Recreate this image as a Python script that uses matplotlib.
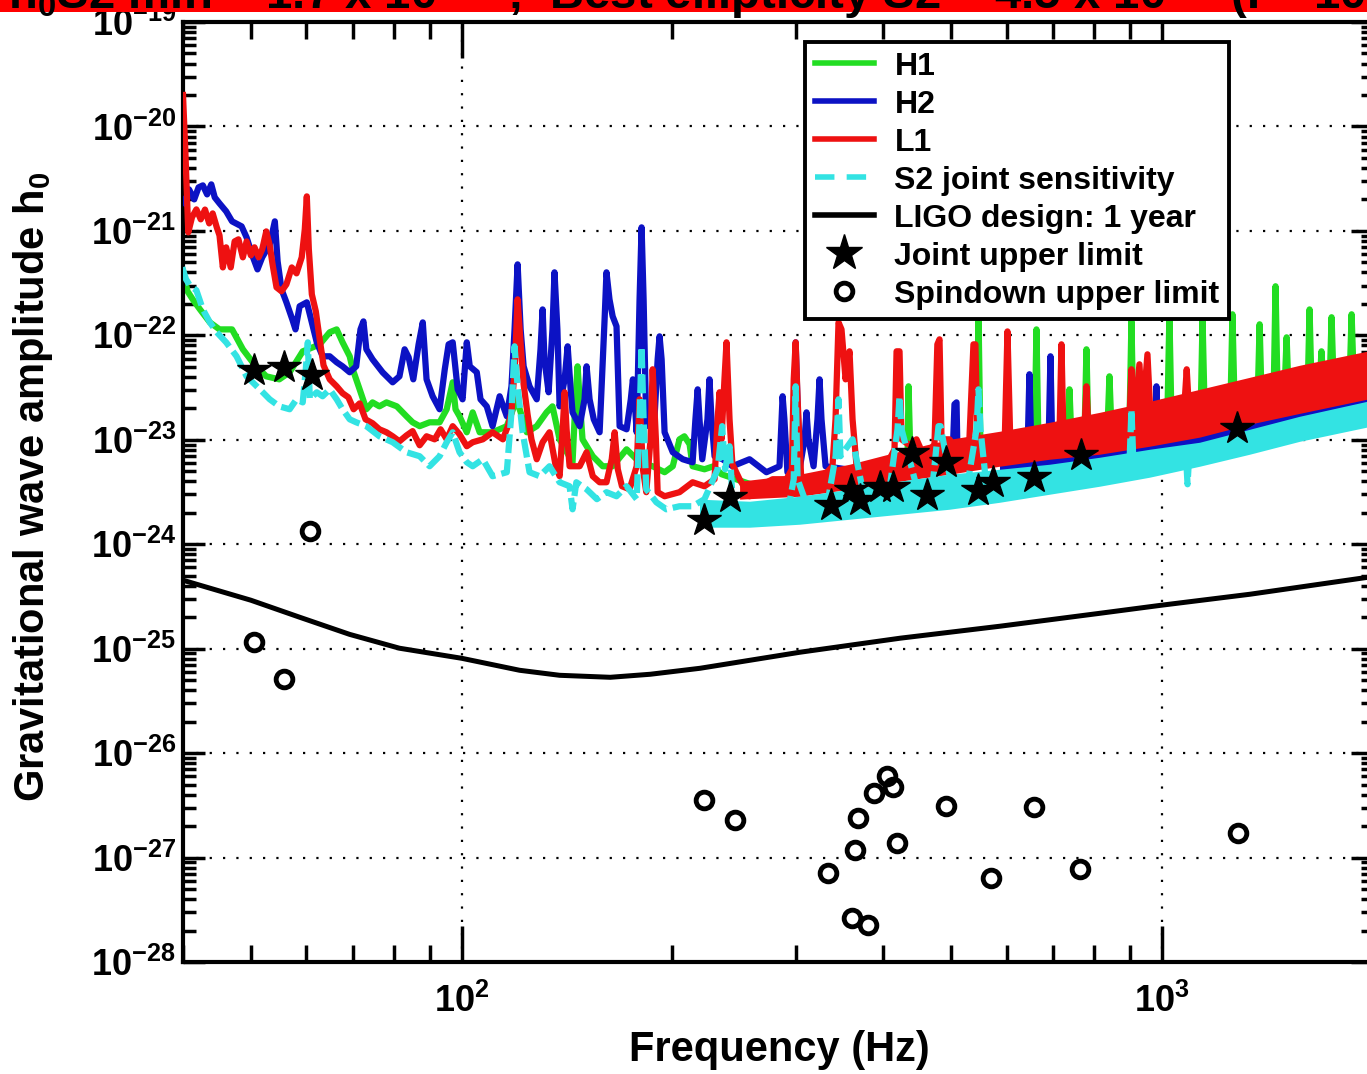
#!/usr/bin/env python3
"""
S2 pulsar search: upper limits on h0 vs frequency, with detector sensitivities
"""

import numpy as np
import matplotlib
matplotlib.use('Agg')
import matplotlib.pyplot as plt
from matplotlib.lines import Line2D
from matplotlib.patches import Rectangle
from matplotlib.ticker import LogLocator, NullFormatter

# detector noise curves, amplitudes in units of 1e-24
H_UNIT = 1e-24

h1_freq = [40.0, 40.6, 41.3, 42.3, 43.7, 45.1, 47.0, 48.7, 50.3, 52.6,
           54.9, 56.8, 59.3, 61.3, 62.7, 64.8, 66.3, 67.6, 69.2, 69.9,
           71.5, 73.1, 74.6, 76.3, 78.1, 80.8, 83.4, 85.1, 87.1, 90.0,
           93.0, 95.2, 97.1, 98.0, 99.3, 101.7, 103.7, 106.1, 110.7, 116.0,
           119.8, 123.9, 128.0, 132.2, 134.8, 138.0, 144.0, 145.4, 146.4, 147.4,
           148.8, 153.9, 159.0, 164.3, 172.0, 179.5, 187.4, 194.9, 200.2, 204.7,
           208.0, 211.6, 213.7, 222.2, 229.0, 235.0, 266.3, 303.8, 370.0, 433.2,
           434.7, 437.5, 543.6, 547.1, 550.7, 657.6, 662.0, 666.4, 733.0, 737.9,
           742.8, 775.2, 780.3, 785.4, 836.0, 841.6, 847.2, 898.8, 904.7, 910.7,
           1018, 1025, 1032, 1136, 1143, 1151, 1253, 1261, 1270, 1370,
           1379, 1388, 1444, 1453, 1463, 1496, 1507, 1517, 1615, 1625,
           1636, 1679, 1690, 1701, 1736, 1747, 1759, 1854, 1866, 1879,
           1960]
h1_amp = [410, 264, 221, 177, 133, 114, 114, 73.5, 55.2, 40.5,
          37.9, 44.3, 70.3, 76.8, 82, 107, 114, 85.7, 63.0, 47.3,
          30.4, 19.6, 22.8, 20.9, 22.8, 20.9, 16.8, 14.7, 13.5, 14.7,
          14.7, 19.6, 35.5, 19.6, 16.8, 11.8, 18.3, 11.8, 11.8, 13.5,
          24.4, 11.8, 13.5, 18.3, 20.9, 10.1, 6.09, 24.4, 50.5, 24.4,
          10.1, 6.96, 5.58, 5.58, 8.11, 6.09, 5.58, 4.89, 5.58, 10.1,
          10.8, 9.06, 5.58, 5.22, 5.58, 4.68, 3.51, 4.19, 5.0, 6.23,
          32.5, 6.23, 8.11, 166, 8.11, 9.06, 114, 9.06, 10.1, 30.4,
          10.1, 10.8, 73.5, 10.8, 12.6, 40.5, 12.6, 14.1, 136, 14.1,
          15.7, 159, 15.7, 18.7, 142, 18.7, 21.9, 159, 21.9, 24.4,
          127.5, 24.4, 27.3, 295, 27.3, 27.3, 95.7, 27.3, 30.4, 177,
          30.4, 31.8, 70.3, 31.8, 34.0, 149, 34.0, 37.9, 159, 37.9,
          39.6]

h2_freq = [39.9, 40.4, 40.8, 41.5, 42.1, 42.7, 43.3, 43.9, 44.4, 45.1,
           46.1, 47.0, 48.5, 49.3, 50.3, 51.1, 51.9, 53.2, 54.1, 54.6,
           55.3, 56.2, 57.3, 57.9, 58.7, 60.1, 61.1, 62.1, 63.3, 64.8,
           66.3, 67.6, 69.2, 70.7, 71.7, 72.4, 73.1, 74.6, 77.1, 79.7,
           81.5, 82.9, 84.0, 85.3, 86.8, 88.0, 89.1, 90.9, 93.0, 94.6,
           95.8, 97.1, 98.7, 100.3, 101.7, 102.7, 105.1, 106.4, 108.6, 110.7,
           113.3, 116.0, 117.8, 119.0, 120.2, 121.4, 122.6, 125.0, 128.0, 129.6,
           130.5, 131.3, 133.1, 134.8, 135.7, 137.0, 138.0, 140.3, 141.7, 143.1,
           144.0, 147.4, 149.8, 150.8, 152.3, 154.4, 157.4, 160.0, 161.0, 162.6,
           164.3, 166.4, 168.1, 172.0, 174.4, 175.6, 176.6, 177.8, 179.5, 180.7,
           181.9, 183.5, 188.5, 190.5, 191.7, 193.0, 194.9, 200.2, 206.9, 213.7,
           215.7, 217.3, 218.6, 220.6, 224.4, 225.9, 227.4, 229.7, 235.8, 243.6,
           257.7, 272.4, 284.4, 286.4, 287.3, 289.0, 291.9, 297.1, 299.9, 303.8,
           308.8, 310.8, 312.8, 318.1, 322.2, 324.4, 326.5, 330.9, 370.0, 422.0,
           502.4, 505.6, 509.0, 510.6, 576.6, 642.7, 646.9, 651.2, 688.6, 693.2, 697.5,
           975.8, 982.2, 988.6, 1960]
h2_amp = [2003, 1794, 2497, 2003, 2609, 2728, 2236, 2788, 2093, 1834,
          1538, 1234, 1105, 867, 570, 428, 558, 743, 1234, 511,
          276, 207, 142, 114, 190, 207, 133, 85.7, 63.0, 63.0,
          55.2, 50.5, 44.3, 50.5, 114, 136, 73.5, 58.9, 44.3, 35.5,
          40.5, 73.5, 61.6, 37.9, 82, 133, 37.9, 26.1, 19.6, 47.3,
          82, 85.7, 30.4, 24.4, 85.7, 50.5, 44.3, 24.4, 20.9, 13.5,
          26.1, 16.8, 32.5, 114, 478, 114, 50.5, 32.5, 24.4, 73.5,
          177, 58.9, 28.5, 114, 401, 114, 20.9, 37.9, 78.5, 30.4,
          18.3, 13.5, 24.4, 50.5, 24.4, 15.7, 11.8, 142, 401, 221,
          152, 122, 13.5, 12.6, 24.4, 37.9, 24.4, 11.8, 221, 1081,
          221, 13.5, 15.7, 58.9, 97.8, 58.9, 11.8, 7.60, 6.51, 6.09,
          15.7, 30.4, 15.7, 6.51, 15.7, 37.9, 15.7, 6.96, 6.51, 5.58,
          6.51, 4.89, 5.58, 15.7, 26.1, 15.7, 4.89, 5.22, 85.7, 5.22,
          10.1, 18.3, 10.1, 5.58, 15.7, 37.9, 15.7, 5.58, 5.0, 6.23,
          6.80, 21.9, 22.8, 7.27, 6.80, 7.27, 42.4, 7.27, 7.76, 63.0, 7.76,
          9.06, 32.5, 9.06, 19.6]

l1_freq = [40.0, 40.3, 40.7, 41.2, 41.8, 42.4, 43.0, 43.6, 44.1, 44.7,
           45.1, 45.6, 46.1, 46.8, 47.4, 48.0, 48.7, 49.3, 50.0, 50.6,
           51.3, 51.9, 52.6, 53.2, 53.7, 54.4, 55.3, 56.2, 57.2, 58.1,
           59.1, 59.7, 60.1, 60.5, 61.1, 61.9, 62.7, 63.5, 64.8, 66.3,
           67.6, 68.9, 70.1, 71.5, 72.9, 74.6, 76.3, 78.1, 79.7, 81.5,
           83.4, 85.1, 87.1, 89.1, 91.5, 93.3, 95.2, 97.1, 99.3, 101.7,
           103.7, 107.2, 110.7, 114.5, 116.7, 117.8, 119.1, 120.2, 121.4, 122.6,
           124.2, 125.8, 128.0, 130.5, 133.5, 136.1, 138.0, 139.4, 140.3, 141.2,
           142.6, 147.4, 150.8, 153.9, 157.4, 161.0, 163.8, 165.4, 167.1, 169.4,
           173.7, 177.8, 179.5, 181.5, 183.5, 186.1, 187.4, 189.4, 190.5, 194.9,
           204.7, 213.7, 222.2, 229.7, 232.0, 233.5, 235.0, 237.3, 238.9, 241.3,
           243.6, 249.4, 257.7, 266.3, 278.0, 291.0, 296.2, 298.0, 299.9, 301.8,
           305.8, 317.0, 327.6, 338.5, 341.9, 345.3, 348.7, 353.4, 358.0, 361.6,
           366.4, 378.6, 395.1, 408.3, 415.1, 417.9, 422.0, 424.8, 436.1, 446.2,
           458.0, 473.4, 477.9, 481.3, 484.5, 497.3, 514.0, 531.0, 538.1, 541.6,
           545.3, 567.0, 586.0, 596.0, 601.8, 607.8, 668.6, 714.0, 718.7, 723.5,
           775.2, 780.3, 785.4, 898.8, 904.7, 913.7, 928.8, 938.0, 953.6, 963.0,
           1077, 1085, 1092, 1960]
l1_amp = [20000, 6030, 968, 1350, 1607, 1290, 1600, 1180, 1470, 1080,
          905, 447, 696, 447, 793, 830, 558, 793, 583, 696,
          558, 666, 989, 727, 478, 288, 264, 308, 447, 392,
          558, 1034, 2140, 666, 247, 170, 91.6, 51.6, 37.9, 32.5,
          27.9, 25.5, 19.6, 22.3, 15.7, 14.4, 12.6, 11.8, 10.8, 9.67,
          11.0, 12.1, 8.86, 10.8, 10.1, 12.6, 10.1, 13.5, 11.3, 8.67,
          9.47, 10.1, 11.8, 10.1, 14.1, 18.3, 50.5, 221, 82, 34.0,
          17.5, 10.1, 6.51, 9.47, 11.8, 5.83, 4.48, 12.6, 28.5, 12.6,
          5.58, 5.58, 7.60, 4.48, 3.92, 3.92, 6.51, 11.8, 5.22, 3.59,
          3.36, 5.58, 24.4, 5.22, 3.15, 10.1, 47.3, 10.1, 3.15, 2.88,
          3.15, 3.92, 3.59, 4.19, 15.7, 28.5, 10.1, 37.9, 85.7, 15.7,
          5.83, 4.19, 2.88, 3.59, 4.19, 4.19, 5.22, 37.9, 85.7, 24.4,
          3.59, 3.59, 4.38, 5.58, 15.7, 133, 114, 37.9, 70.3, 15.7,
          5.58, 5.22, 5.58, 6.51, 8.11, 70.3, 70.3, 10.1, 8.86, 10.1,
          6.80, 9.06, 82, 91.6, 10.1, 10.1, 7.27, 10.1, 82, 82,
          9.06, 7.27, 10.1, 8.11, 109, 8.11, 10.1, 10.6, 82, 10.6,
          12.6, 32.5, 12.6, 15.7, 47.3, 15.7, 52.8, 16.4, 65.8, 17.2,
          21.9, 47.3, 21.9, 37.9]

s2_freq = [39.9, 40.4, 40.9, 41.8, 42.7, 43.7, 44.7, 46.1, 47.7, 49.3,
           50.3, 51.5, 53.2, 54.9, 56.8, 58.1, 59.3, 59.9, 60.3, 60.7,
           62.1, 63.3, 64.8, 66.3, 67.6, 69.2, 70.7, 73.1, 76.3, 79.7,
           83.4, 87.1, 90.0, 93.0, 95.2, 97.1, 99.3, 101.7, 103.7, 107.2,
           110.7, 116.0, 117.8, 119.0, 120.2, 122.2, 125.0, 129.2, 133.5, 138.0,
           142.6, 144.0, 145.8, 150.8, 156.0, 161.0, 166.4, 172.0, 177.8, 179.5,
           180.7, 181.9, 183.5, 189.7, 196.0, 204.7, 213.7, 222.2, 232.0, 235.5,
           237.8, 241.3, 243.7, 251.0, 266.3, 281.5, 290.9, 298.0, 299.9, 301.8,
           313.9, 331.8, 342.0, 345.3, 347.5, 361.6, 378.6, 404.3, 419.2, 422.0,
           424.8, 446.2, 470.3, 479.7, 482.9, 502.4, 525.5, 543.6, 547.1, 550.7,
           561.6, 586.2, 690.9, 814.4, 898.8, 904.7, 910.7, 1081, 1088, 1095,
           1334, 1960]
s2_amp = [448, 344, 301, 270, 177, 133, 107, 85.7, 63.0, 40.5,
          35.5, 30.4, 24.4, 20.9, 19.6, 24.4, 22.8, 47.3, 85.7, 24.4,
          28.5, 26.1, 30.4, 24.4, 19.6, 15.7, 14.7, 13.5, 10.8, 9.47,
          7.60, 6.96, 5.58, 6.96, 9.47, 11.8, 7.60, 6.09, 5.58, 6.51,
          4.48, 4.89, 18.3, 78.5, 32.5, 11.8, 4.89, 4.48, 5.58, 3.92,
          3.59, 2.16, 3.92, 3.36, 2.70, 3.15, 2.88, 3.59, 2.70, 15.7,
          78.5, 15.7, 3.36, 2.52, 2.16, 2.31, 2.31, 2.70, 5.22, 13.5,
          5.22, 8.67, 2.70, 2.02, 1.735, 2.02, 1.735, 4.19, 32.5, 4.19,
          2.02, 2.16, 6.96, 24.4, 6.96, 10.1, 2.16, 2.02, 12.6, 26.1,
          12.6, 3.59, 3.59, 13.5, 13.5, 3.15, 3.15, 12.6, 30.4, 12.6,
          3.59, 3.59, 4.19, 5.22, 5.83, 19.6, 5.83, 8.11, 3.75, 8.11,
          10.1, 17.5]

# dense high-frequency floor, spread of each noise band (units of 1e-24)
l1_band_freq = [249.4, 303.8, 358.0, 422.0, 497.3, 586.2, 690.9, 814.4, 959.9, 1132, 1334, 1573, 1960]
l1_band_lo = [2.70, 2.88, 3.36, 4.01, 4.68, 5.58, 6.51, 7.27, 8.67, 10.6, 14.1, 17.9, 24.4]
l1_band_hi = [4.01, 4.68, 5.83, 7.76, 10.1, 12.06, 14.7, 18.3, 23.3, 30.4, 39.6, 51.7, 70.3]

h2_band_freq = [586.2, 814.4, 1132, 1573, 1960]
h2_band_lo = [4.78, 6.23, 8.67, 14.1, 19.6]
h2_band_hi = [5.83, 7.76, 11.05, 18.7, 25.5]

s2_band_freq = [218.6, 257.7, 303.8, 358.0, 422.0, 497.3, 586.2, 690.9, 814.4, 959.9, 1132, 1334, 1573, 1960]
s2_band_lo = [1.455, 1.455, 1.554, 1.735, 1.937, 2.163, 2.52, 3.01, 3.59, 4.38, 5.58, 7.27, 9.67, 13.2]
s2_band_hi = [2.70, 2.58, 2.88, 3.36, 4.01, 4.68, 5.22, 5.83, 6.80, 8.11, 9.47, 12.6, 16.8, 23.3]

# initial LIGO design, 1 year integration
design_freq = [40, 50, 58.7, 69.2, 81.5, 100, 121, 138, 163, 186, 219, 304, 423, 587, 815, 1000, 1336, 2000]
design_h = [4.52e-25, 2.91e-25, 2.00e-25, 1.37e-25, 1.01e-25, 8.09e-26, 6.21e-26, 5.56e-26, 5.32e-26,
            5.69e-26, 6.49e-26, 9.24e-26, 1.26e-25, 1.64e-25, 2.18e-25, 2.61e-25, 3.32e-25, 4.90e-25]

# pulsar upper limits
joint_freq = [50.6, 55.7, 61.1, 222, 241.5, 336.7, 359.4, 370.5, 395.6, 412.7,
              439.4, 461.5, 491.5, 545.6, 574, 656.6, 766, 1279]
joint_h = [4.64e-23, 4.96e-23, 4.16e-23, 1.70e-24, 2.82e-24, 2.37e-24, 3.29e-24, 2.64e-24, 3.52e-24, 3.52e-24,
           7.44e-24, 2.95e-24, 6.10e-24, 3.29e-24, 3.93e-24, 4.38e-24, 7.12e-24, 1.29e-23]

spin_freq = [60.7, 50.6, 55.7, 221.6, 246, 334, 360.5, 381, 364, 368,
             388, 405, 413, 418, 491, 571, 656, 764, 1284]
spin_h = [1.33e-24, 1.15e-25, 5.09e-26, 3.53e-27, 2.27e-27, 7.06e-28, 2.62e-28, 2.24e-28, 1.17e-27, 2.37e-27,
          4.12e-27, 6.0e-27, 4.70e-27, 1.37e-27, 3.09e-27, 6.32e-28, 3.03e-27, 7.71e-28, 1.71e-27]

GREEN = '#22dd22'
BLUE = '#0c12c4'
RED = '#ee1111'
CYAN = '#33e3e3'

plt.rcParams['font.family'] = ['Liberation Sans', 'DejaVu Sans']
plt.rcParams['font.weight'] = 'bold'
plt.rcParams['axes.labelweight'] = 'bold'
plt.rcParams['mathtext.fontset'] = 'custom'
plt.rcParams['mathtext.rm'] = 'Liberation Sans:bold'
plt.rcParams['mathtext.it'] = 'Liberation Sans:bold'
plt.rcParams['mathtext.bf'] = 'Liberation Sans:bold'
plt.rcParams['mathtext.sf'] = 'Liberation Sans:bold'


def main():
    W, H = 1367, 1074
    fig = plt.figure(figsize=(W / 100, H / 100), dpi=100)
    ax = fig.add_axes([183 / W, 112 / H, 1189.7 / W, 940 / H])

    lw = 4.5
    u = H_UNIT
    # H1
    ax.plot(h1_freq, np.array(h1_amp) * u, color=GREEN, lw=lw, zorder=2)
    # H2
    ax.fill_between(h2_band_freq, np.array(h2_band_lo) * u, np.array(h2_band_hi) * u,
                    color=BLUE, lw=0, zorder=3)
    ax.plot(h2_freq, np.array(h2_amp) * u, color=BLUE, lw=lw, zorder=3)
    # L1
    ax.fill_between(l1_band_freq, np.array(l1_band_lo) * u, np.array(l1_band_hi) * u,
                    color=RED, lw=0, zorder=4)
    ax.plot(l1_freq, np.array(l1_amp) * u, color=RED, lw=lw, zorder=4)
    # joint sensitivity
    ax.fill_between(s2_band_freq, np.array(s2_band_lo) * u, np.array(s2_band_hi) * u,
                    color=CYAN, lw=0, zorder=5)
    ax.plot(s2_freq, np.array(s2_amp) * u, color=CYAN, lw=lw, dashes=(3, 1), zorder=5)

    ax.plot(design_freq, design_h, color='k', lw=3.6, zorder=6)
    ax.plot(joint_freq, joint_h, ls='none', marker='*', ms=25, color='k', zorder=7)
    ax.plot(spin_freq, spin_h, ls='none', marker='o', ms=12, mfc='none', mec='k', mew=3.5, zorder=7)

    ax.set_xscale('log')
    ax.set_yscale('log')
    ax.set_xlim(40, 2000)
    ax.set_ylim(1e-28, 1e-19)

    ax.xaxis.set_major_locator(LogLocator(base=10, numticks=20))
    ax.xaxis.set_minor_locator(LogLocator(base=10, subs=np.arange(2, 10), numticks=100))
    ax.yaxis.set_major_locator(LogLocator(base=10, numticks=20))
    ax.yaxis.set_minor_locator(LogLocator(base=10, subs=np.arange(2, 10), numticks=100))
    ax.xaxis.set_minor_formatter(NullFormatter())
    ax.yaxis.set_minor_formatter(NullFormatter())

    ax.tick_params(axis='both', which='both', direction='in', top=True, right=True, width=2.5)
    ax.tick_params(axis='x', which='major', length=26, labelsize=26, pad=16)
    ax.tick_params(axis='x', which='minor', length=12)
    ax.tick_params(axis='y', which='major', length=16, labelsize=26, pad=5)
    ax.tick_params(axis='y', which='minor', length=9)
    for sp in ax.spines.values():
        sp.set_linewidth(3)

    ax.grid(True, which='major', color='k', ls=(0, (1, 5)), lw=1.6)
    ax.set_axisbelow(True)

    fig.text(779 / W, 1 - 1050 / H, 'Frequency (Hz)', fontsize=30, ha='center', va='center')
    fig.text(33 / W, 1 - 487 / H, 'Gravitational wave amplitude h$_0$', fontsize=30,
             rotation=90, ha='center', va='center')

    handles = [
        Line2D([], [], color=GREEN, lw=4, label='H1'),
        Line2D([], [], color=BLUE, lw=4, label='H2'),
        Line2D([], [], color=RED, lw=4, label='L1'),
        Line2D([], [], color=CYAN, lw=4, dashes=(3.5, 2.2), label='S2 joint sensitivity'),
        Line2D([], [], color='k', lw=4, label='LIGO design: 1 year'),
        Line2D([], [], ls='none', marker='*', ms=27, color='k', label='Joint upper limit'),
        Line2D([], [], ls='none', marker='o', ms=12, mfc='none', mec='k', mew=3.5,
               label='Spindown upper limit'),
    ]
    leg = ax.legend(handles=handles, loc='upper left',
                    bbox_to_anchor=(805 / W, 1 - 42 / H), bbox_transform=fig.transFigure,
                    fontsize=23, frameon=True, fancybox=False, edgecolor='k', framealpha=1,
                    borderaxespad=0, handlelength=1.85, handletextpad=0.65,
                    labelspacing=0.25, borderpad=0.3)
    leg.get_frame().set_linewidth(2.8)
    leg.set_zorder(20)

    # red title strip, cropped at the top of the picture
    fig.patches.append(Rectangle((0, 1 - 12 / H), 1, 12 / H, transform=fig.transFigure,
                                 facecolor='red', edgecolor='none', zorder=10))
    fig.text(8 / W, 1 - 9 / H,
             r'h$_0$S2 min = 1.7 x 10$^{-24}$ ;  Best ellipticity S2 = 4.5 x 10$^{-6}$  (I = 10$^{45}$ g cm$^2$)',
             fontsize=34, ha='left', va='baseline', zorder=11)

    fig.savefig('out.png', dpi=100)
    plt.close(fig)


if __name__ == "__main__":
    main()
